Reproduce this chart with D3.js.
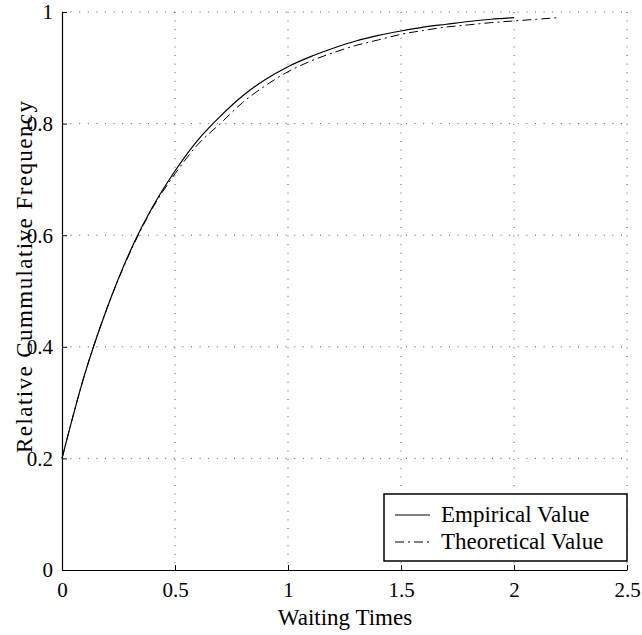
<!DOCTYPE html>
<html>
<head>
<meta charset="utf-8">
<script src="https://cdn.jsdelivr.net/npm/d3@7"></script>
<style>
  body { margin: 0; background: #fff; }
</style>
</head>
<body>
<div id="chart"></div>
<script>
// waiting times sampled along each curve
let empiricalT = [0, 0.1, 0.2, 0.3, 0.4, 0.5, 0.6, 0.7, 0.8, 0.9, 1.0, 1.1, 1.2, 1.3, 1.4, 1.5, 1.6, 1.7, 1.8, 1.9, 2.0];
let empiricalF = [0.20, 0.35, 0.47, 0.57, 0.65, 0.715, 0.77, 0.813, 0.850, 0.879, 0.902, 0.920, 0.935, 0.948, 0.958, 0.966, 0.973, 0.978, 0.983, 0.987, 0.990];

let theoreticalT = [0, 0.1, 0.2, 0.3, 0.4, 0.5, 0.6, 0.7, 0.8, 0.9, 1.0, 1.1, 1.2, 1.3, 1.4, 1.5, 1.6, 1.7, 1.8, 1.9, 2.0, 2.1, 2.2];
let theoreticalF = [0.20, 0.35, 0.47, 0.568, 0.648, 0.71, 0.762, 0.80, 0.838, 0.868, 0.893, 0.912, 0.927, 0.940, 0.950, 0.960, 0.967, 0.973, 0.977, 0.981, 0.984, 0.987, 0.990];

let xTicks = [0, 0.5, 1, 1.5, 2, 2.5];
let yTicks = [0, 0.2, 0.4, 0.6, 0.8, 1];
let legendLabels = ["Empirical Value", "Theoretical Value"];

let font = "Liberation Serif";
let svgWidth = 642, svgHeight = 635;
let margin = { top: 12, bottom: 65, right: 15, left: 62 };
let width = svgWidth - margin.left - margin.right;
let height = svgHeight - margin.top - margin.bottom;

let svg = d3.select("#chart").append("svg")
  .attr("width", svgWidth)
  .attr("height", svgHeight)
  .attr("font-family", font);

let g = svg.append("g")
  .attr("transform", `translate(${margin.left}, ${margin.top})`);

let x = d3.scaleLinear().domain([0, 2.5]).range([0, width]);
let y = d3.scaleLinear().domain([0, 1]).range([height, 0]);

// dotted grid (also forms the top and right edges)
g.append("g").selectAll("line").data(xTicks.filter(d => d > 0)).enter().append("line")
  .attr("x1", d => x(d)).attr("x2", d => x(d))
  .attr("y1", 0).attr("y2", height)
  .attr("stroke", "#555").attr("stroke-width", 1)
  .attr("stroke-dasharray", "1,7.6");
g.append("g").selectAll("line").data(yTicks.filter(d => d > 0)).enter().append("line")
  .attr("x1", 0).attr("x2", width)
  .attr("y1", d => y(d)).attr("y2", d => y(d))
  .attr("stroke", "#555").attr("stroke-width", 1)
  .attr("stroke-dasharray", "1,7.6");

// axes with inward ticks
let xAxis = d3.axisBottom(x).tickValues(xTicks).tickFormat(d3.format("")).tickSize(-5).tickSizeOuter(0).tickPadding(0);
let yAxis = d3.axisLeft(y).tickValues(yTicks).tickFormat(d3.format("")).tickSize(-5).tickSizeOuter(0).tickPadding(9);

let gx = g.append("g").attr("transform", `translate(0, ${height})`).call(xAxis);
let gy = g.append("g").call(yAxis);

// restyle the axis labels: serif, larger
function serifTicks(a) {
  a.attr("font-family", font).attr("font-size", 21);
  a.select(".domain").attr("stroke", "#000").attr("stroke-width", 1.2);
  a.selectAll(".tick line").attr("stroke", "#000");
  a.selectAll(".tick text").each(function () {
    this.setAttribute("font-family", font);
    this.setAttribute("font-size", "21");
    this.setAttribute("fill", "#000");
    this.style.setProperty("font-family", `"${font}"`, "important");
    this.style.setProperty("font-size", "21px", "important");
  });
}
serifTicks(gx);
serifTicks(gy);
gy.selectAll(".tick text").attr("dy", "0.33em");
// baseline of the x tick labels ~27px under the axis
gx.selectAll(".tick text").attr("y", 27).attr("dy", null);

// curves
let line = d3.line().x(d => x(d[0])).y(d => y(d[1])).curve(d3.curveMonotoneX);
let empirical = empiricalT.map((t, i) => [t, empiricalF[i]]);
let theoretical = theoreticalT.map((t, i) => [t, theoreticalF[i]]);

g.append("path").datum(theoretical)
  .attr("d", line)
  .attr("fill", "none").attr("stroke", "#000").attr("stroke-width", 1)
  .attr("stroke-dasharray", "9,4,2,4");
g.append("path").datum(empirical)
  .attr("d", line)
  .attr("fill", "none").attr("stroke", "#000").attr("stroke-width", 1.2);

// axis titles
svg.append("text")
  .attr("x", 345).attr("y", 625)
  .attr("text-anchor", "middle")
  .attr("font-size", 23)
  .text("Waiting Times");
svg.append("text")
  .attr("transform", "translate(32, 277) rotate(-90)")
  .attr("text-anchor", "middle")
  .attr("font-size", 23)
  .attr("textLength", 352)
  .attr("lengthAdjust", "spacing")
  .text("Relative Cummulative Frequency");

// legend
let legend = svg.append("g").attr("transform", "translate(384, 494)");
legend.append("rect")
  .attr("width", 243).attr("height", 67)
  .attr("fill", "#fff").attr("stroke", "#000").attr("stroke-width", 1.5);
let dashes = [null, "9,4,2,4"];
legendLabels.forEach((lab, i) => {
  let yy = 21 + i * 27;
  legend.append("line")
    .attr("x1", 11).attr("x2", 46).attr("y1", yy).attr("y2", yy)
    .attr("stroke", "#000").attr("stroke-width", 1)
    .attr("stroke-dasharray", dashes[i]);
  legend.append("text")
    .attr("x", 57).attr("y", yy + 7)
    .attr("font-size", 23)
    .text(lab);
});
</script>
</body>
</html>
